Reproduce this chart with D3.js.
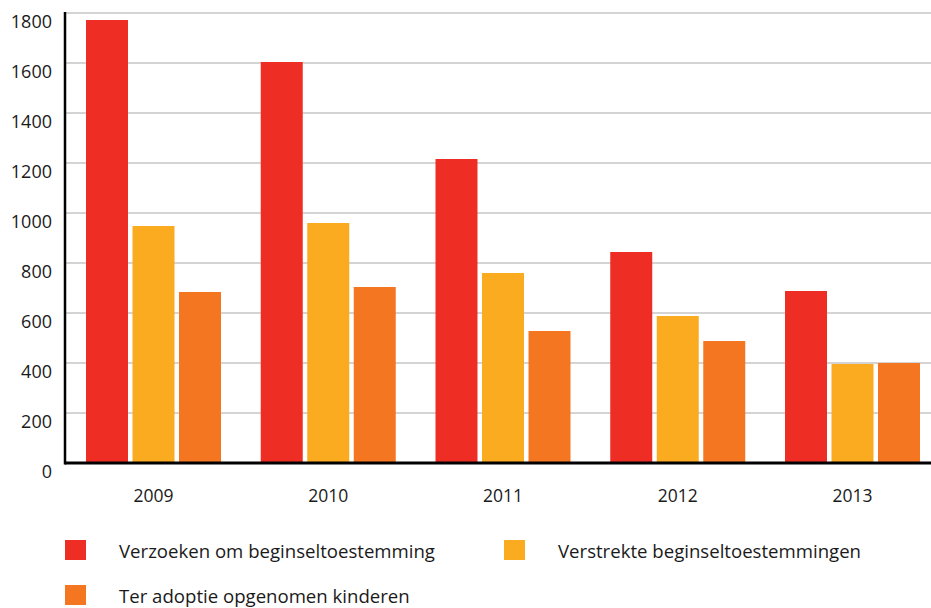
<!DOCTYPE html>
<html>
<head>
<meta charset="utf-8">
<script src="https://cdn.jsdelivr.net/npm/d3@7"></script>
<style>
  html, body { margin: 0; padding: 0; background: #ffffff; }
  svg { display: block; }
  text { font-family: "Open Sans", "Noto Sans", sans-serif; fill: #1a1a1a; }
</style>
</head>
<body>
<svg id="chart" width="931" height="608"></svg>
<script>
// ---- data ----
const years = ["2009", "2010", "2011", "2012", "2013"];
const seriesNames = [
  "Verzoeken om beginseltoestemming",
  "Verstrekte beginseltoestemmingen",
  "Ter adoptie opgenomen kinderen"
];
const verzoeken = [1772, 1604, 1216, 844, 688];
const verstrekte = [948, 960, 760, 588, 396];
const opgenomen = [684, 704, 528, 488, 400];
const yTicks = [0, 200, 400, 600, 800, 1000, 1200, 1400, 1600, 1800];
const colors = ["#ee2e24", "#fbab1f", "#f47621"];

const seriesValues = [verzoeken, verstrekte, opgenomen];

// ---- layout ----
const svg = d3.select("#chart");
const axisX = 65;
const plotRight = 931;

const y = d3.scaleLinear().domain([0, 1800]).range([463, 13]);
const x0 = d3.scaleBand().domain(years).range([86, 920]).paddingInner(0.2275).paddingOuter(0);
const x1 = d3.scaleBand().domain(d3.range(seriesNames.length)).range([0, x0.bandwidth()]).paddingInner(0.097).paddingOuter(0);
const color = d3.scaleOrdinal().domain(d3.range(seriesNames.length)).range(colors);

// gridlines
svg.append("g")
  .selectAll("line")
  .data(yTicks.filter(d => d > 0))
  .join("line")
  .attr("x1", axisX)
  .attr("x2", plotRight)
  .attr("y1", d => y(d))
  .attr("y2", d => y(d))
  .attr("stroke", "#c6c6c6")
  .attr("stroke-width", 1.5);

// bars
const groups = svg.append("g")
  .selectAll("g")
  .data(years)
  .join("g")
  .attr("transform", d => `translate(${x0(d)},0)`);

groups.selectAll("rect")
  .data((yr, i) => seriesValues.map((vals, s) => ({ s, v: vals[i] })))
  .join("rect")
  .attr("x", d => x1(d.s))
  .attr("width", x1.bandwidth())
  .attr("y", d => y(d.v))
  .attr("height", d => y(0) - y(d.v))
  .attr("fill", d => color(d.s));

// y axis line
svg.append("line")
  .attr("x1", axisX).attr("x2", axisX)
  .attr("y1", y(1800) - 1).attr("y2", y(0) + 1.5)
  .attr("stroke", "#000").attr("stroke-width", 2.5);

// baseline
svg.append("line")
  .attr("x1", axisX).attr("x2", plotRight)
  .attr("y1", y(0)).attr("y2", y(0))
  .attr("stroke", "#000").attr("stroke-width", 3);

// y tick labels
svg.append("g")
  .selectAll("text")
  .data(yTicks)
  .join("text")
  .attr("x", 52)
  .attr("y", d => y(d) + 15)
  .attr("text-anchor", "end")
  .attr("font-size", 18)
  .text(d => d);

// x labels
svg.append("g")
  .selectAll("text")
  .data(years)
  .join("text")
  .attr("x", d => x0(d) + x1(1) + x1.bandwidth() / 2)
  .attr("y", 502)
  .attr("text-anchor", "middle")
  .attr("font-size", 17.5)
  .text(d => d);

// legend
const legendPos = [
  { x: 65, y: 540, tx: 119 },
  { x: 504, y: 540, tx: 558 },
  { x: 65, y: 585, tx: 119 }
];
const legend = svg.append("g")
  .selectAll("g")
  .data(seriesNames)
  .join("g");

legend.append("rect")
  .attr("x", (d, i) => legendPos[i].x)
  .attr("y", (d, i) => legendPos[i].y)
  .attr("width", 21)
  .attr("height", 20)
  .attr("fill", (d, i) => color(i));

legend.append("text")
  .attr("x", (d, i) => legendPos[i].tx)
  .attr("y", (d, i) => legendPos[i].y + 18)
  .attr("font-size", 18.6)
  .text(d => d);
</script>
</body>
</html>
